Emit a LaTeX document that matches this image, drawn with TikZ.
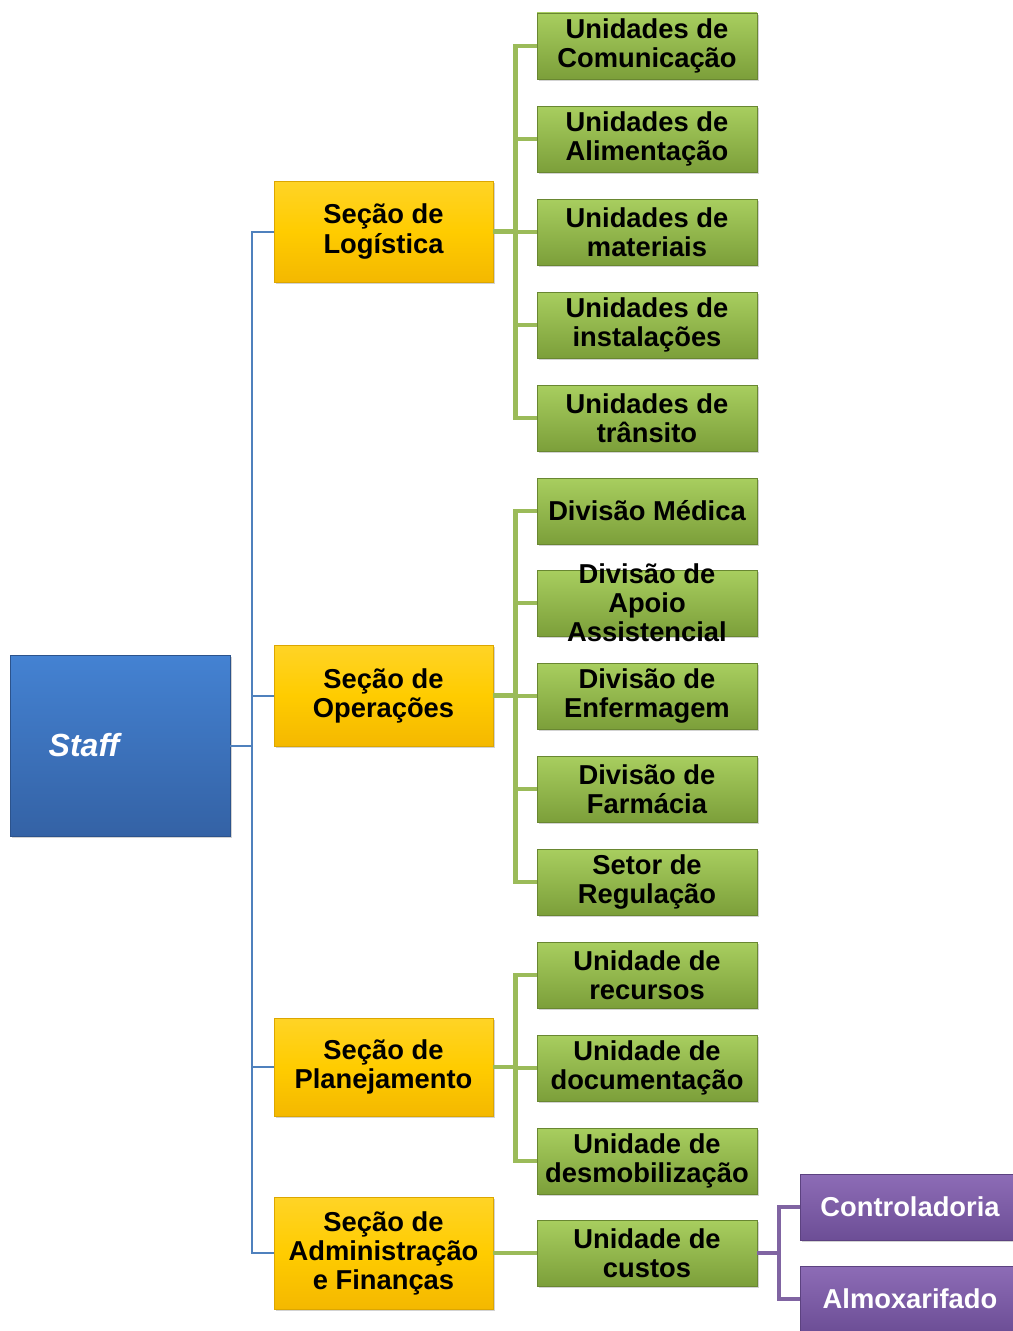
\documentclass[tikz,border=0pt]{standalone}
\usepackage{fontspec}
\setmainfont{Liberation Sans}
\usepackage{tikz}
\usetikzlibrary{
	arrows.meta,
	calc,
	shadows,
	positioning
}
\definecolor{StaffBlue}{RGB}{68,130,210}
\definecolor{StaffDark}{RGB}{52,98,165}
\definecolor{LineBlue}{RGB}{79,129,189}
\definecolor{SecYellow}{RGB}{255,204,0}
\definecolor{SecDark}{RGB}{244,184,0}
\definecolor{UnitGreen}{RGB}{168,206,95}
\definecolor{UnitDark}{RGB}{124,159,58}
\definecolor{LineGreen}{RGB}{155,187,89}
\definecolor{SubPurple}{RGB}{141,108,182}
\definecolor{SubDark}{RGB}{108,78,150}
\definecolor{LinePurple}{RGB}{128,100,162}

\begin{document}
\begin{tikzpicture}[x=0.75pt, y=-0.75pt,
		box/.style={rectangle, align=center, inner sep=0pt,
			font=\bfseries\fontsize{20.5}{21.8}\selectfont,
			drop shadow={shadow xshift=1.5pt, shadow yshift=-1.5pt, opacity=0.35}},
		staffbox/.style={box, draw=StaffDark!85!black, top color=StaffBlue, bottom color=StaffDark,
			minimum width=165pt, minimum height=135.75pt, text=white,
			font=\bfseries\itshape\fontsize{24}{26}\selectfont},
		secbox/.style={box, draw=SecDark!90!black, top color=SecYellow!85!white, bottom color=SecDark,
			middle color=SecYellow, minimum width=164.25pt},
		unitbox/.style={box, draw=UnitDark!85!black, top color=UnitGreen, bottom color=UnitDark,
			minimum width=165pt, minimum height=49.5pt},
		subbox/.style={box, draw=SubDark!85!black, top color=SubPurple, bottom color=SubDark,
			minimum width=165pt, minimum height=49.5pt, text=white},
		bline/.style={draw=LineBlue, line width=1.5pt},
		gline/.style={draw=LineGreen, line width=3.4pt},
		pline/.style={draw=LinePurple, line width=3.2pt}
	]
		\useasboundingbox (0,0) rectangle (1013,1331);
		
		% Staff
		\node[staffbox] (staff) at (120,745.5) {\hspace*{-54pt}Staff};
		
		% Seções
		\node[secbox, minimum height=75.75pt] (log) at (383.5,231.5) {Seção de\\Logística};
		\node[secbox, minimum height=75.75pt] (ope) at (383.5,695.5) {Seção de\\Operações};
		\node[secbox, minimum height=73.5pt] (pla) at (383.5,1067) {Seção de\\Planejamento};
		\node[secbox, minimum height=84pt] (adm) at (383.5,1253) {Seção de\\Administração\\e Finanças};
		
		% Unidades da logística
		\node[unitbox] (u1) at (647,46) {Unidades de\\Comunicação};
		\node[unitbox] (u2) at (647,139) {Unidades de\\Alimentação};
		\node[unitbox] (u3) at (647,232) {Unidades de\\materiais};
		\node[unitbox] (u4) at (647,325) {Unidades de\\instalações};
		\node[unitbox] (u5) at (647,418) {Unidades de\\trânsito};
		
		% Divisões das operações
		\node[unitbox] (d1) at (647,511) {Divisão Médica};
		\node[unitbox, inner ysep=-10pt] (d2) at (647,603) {Divisão de\\Apoio\\Assistencial};
		\node[unitbox] (d3) at (647,696) {Divisão de\\Enfermagem};
		\node[unitbox] (d4) at (647,789) {Divisão de\\Farmácia};
		\node[unitbox] (d5) at (647,882) {Setor de\\Regulação};
		
		% Unidades do planejamento
		\node[unitbox] (p1) at (647,975) {Unidade de\\recursos};
		\node[unitbox] (p2) at (647,1068) {Unidade de\\documentação};
		\node[unitbox] (p3) at (647,1161) {Unidade de\\desmobilização};
		
		% Administração
		\node[unitbox] (a1) at (647,1253) {Unidade de\\custos};
		\node[subbox] (c1) at (910,1207) {Controladoria};
		\node[subbox] (c2) at (910,1299) {Almoxarifado};
		
		% Ligações
		\foreach \s in {log,ope,pla,adm}
			\draw[bline] (staff.east) -- ++(22,0) |- (\s.west);
		\foreach \n in {u1,u2,u3,u4,u5}
			\draw[gline] (log.east) -- ++(22,0) |- (\n.west);
		\foreach \n in {d1,d2,d3,d4,d5}
			\draw[gline] (ope.east) -- ++(22,0) |- (\n.west);
		\foreach \n in {p1,p2,p3}
			\draw[gline] (pla.east) -- ++(22,0) |- (\n.west);
		\draw[gline] (adm.east) -- (a1.west);
		\foreach \n in {c1,c2}
			\draw[pline] (a1.east) -- ++(22,0) |- (\n.west);
	\end{tikzpicture}
\end{document}
